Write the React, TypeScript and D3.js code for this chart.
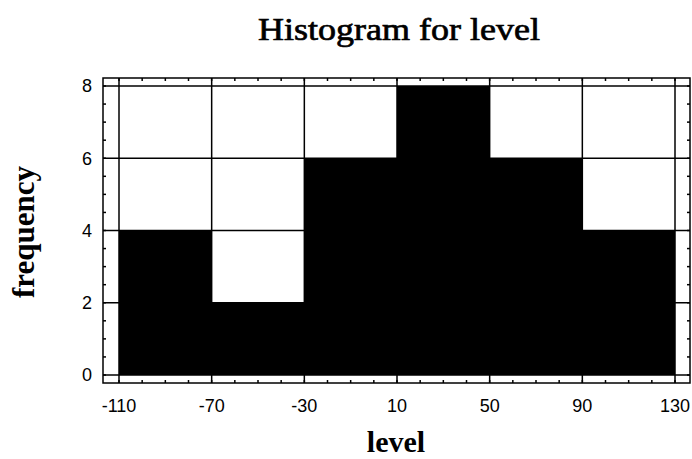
import * as d3 from "d3";

// histogram bins (level) and counts
const binStarts = [-110, -70, -30, 10, 50, 90];
const binWidth = 40;
const counts = [4, 2, 6, 8, 6, 4];
const xTicks = [-110, -70, -30, 10, 50, 90, 130];
const yTicks = [0, 2, 4, 6, 8];

export default function App() {
  const width = 692;
  const height = 459;

  // frame box and plot area
  const frame = { left: 103, right: 690, top: 78, bottom: 383 };
  const plot = { left: 119, right: 675, top: 86, bottom: 375 };

  const x = d3.scaleLinear().domain([-110, 130]).range([plot.left, plot.right]);
  const y = d3.scaleLinear().domain([0, 8]).range([plot.bottom, plot.top]);

  const minorX = d3.range(-110, 131, 10);
  const minorY = d3.range(0, 8.01, 0.5);
  const tick = 3;
  const sw = 1.5;

  return (
    <svg
      width={width}
      height={height}
      style={{ position: "absolute", left: 0, top: 0, background: "#fff" }}
    >
      {/* title */}
      <text
        x={399}
        y={40}
        textAnchor="middle"
        fontFamily="Liberation Serif"
        fontSize="32"
        textLength={282}
        lengthAdjust="spacingAndGlyphs"
        fill="#000"
        stroke="#000"
        strokeWidth={0.7}
      >
        Histogram for level
      </text>

      {/* bars */}
      {binStarts.map((b, i) => (
        <rect
          key={i}
          x={x(b)}
          y={y(counts[i])}
          width={x(b + binWidth) - x(b)}
          height={y(0) - y(counts[i])}
          fill="#000"
        />
      ))}

      {/* horizontal grid lines across frame */}
      {yTicks.map(t => (
        <line key={"h" + t} x1={frame.left} x2={frame.right} y1={y(t)} y2={y(t)} stroke="#000" strokeWidth={sw} />
      ))}

      {/* vertical grid lines across frame */}
      {xTicks.map(t => (
        <line key={"v" + t} x1={x(t)} x2={x(t)} y1={frame.top} y2={frame.bottom} stroke="#000" strokeWidth={sw} />
      ))}

      {/* minor x ticks, top and bottom */}
      {minorX.map(t => (
        <g key={"mx" + t}>
          <line x1={x(t)} x2={x(t)} y1={frame.top} y2={frame.top + tick} stroke="#000" strokeWidth={sw} />
          <line x1={x(t)} x2={x(t)} y1={frame.bottom} y2={frame.bottom - tick} stroke="#000" strokeWidth={sw} />
        </g>
      ))}

      {/* minor y ticks, left and right */}
      {minorY.map(t => (
        <g key={"my" + t}>
          <line x1={frame.left} x2={frame.left + tick} y1={y(t)} y2={y(t)} stroke="#000" strokeWidth={sw} />
          <line x1={frame.right} x2={frame.right - tick} y1={y(t)} y2={y(t)} stroke="#000" strokeWidth={sw} />
        </g>
      ))}

      {/* outer frame */}
      <rect
        x={frame.left}
        y={frame.top}
        width={frame.right - frame.left}
        height={frame.bottom - frame.top}
        fill="none"
        stroke="#000"
        strokeWidth={sw}
      />

      {/* y tick labels */}
      {yTicks.map(t => (
        <text
          key={"yl" + t}
          x={92}
          y={y(t)}
          dy="0.36em"
          textAnchor="end"
          fontFamily="Liberation Sans"
          fontSize="18"
          fill="#000"
        >
          {t}
        </text>
      ))}

      {/* x tick labels */}
      {xTicks.map(t => (
        <text
          key={"xl" + t}
          x={x(t)}
          y={412}
          textAnchor="middle"
          fontFamily="Liberation Sans"
          fontSize="18"
          fill="#000"
        >
          {t}
        </text>
      ))}

      {/* axis titles */}
      <text
        x={396}
        y={452}
        textAnchor="middle"
        fontFamily="Liberation Serif"
        fontWeight="bold"
        fontSize="30"
        fill="#000"
      >
        level
      </text>
      <text
        transform="translate(34,232) rotate(-90)"
        textAnchor="middle"
        fontFamily="Liberation Serif"
        fontWeight="bold"
        fontSize="31"
        fill="#000"
      >
        frequency
      </text>
    </svg>
  );
}
